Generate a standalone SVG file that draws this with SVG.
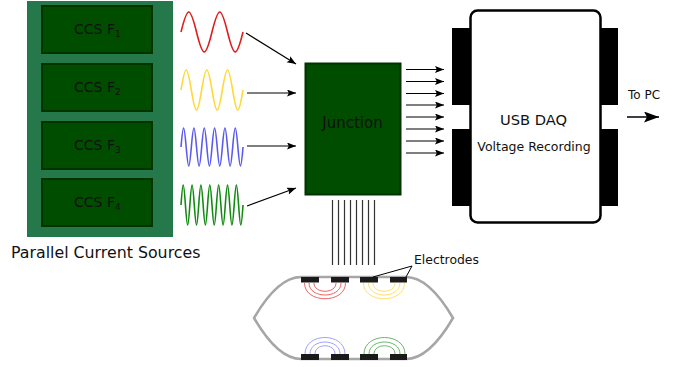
<svg xmlns="http://www.w3.org/2000/svg" width="686" height="367" viewBox="0 0 686 367">
<style>
text{font-family:"DejaVu Sans",sans-serif;fill:#111}
.box{fill:#004d00;stroke:#003300;stroke-width:2}
.wave{fill:none;stroke-width:1.6}
.arr{fill:none;stroke:#000;stroke-width:1.2;marker-end:url(#ah)}
.wire{stroke:#333;stroke-width:1.2}
.blk{fill:#000}
.el{fill:#1a1a1a}
.arc{fill:none;stroke-width:1}
</style>
<defs>
<marker id="ah" markerUnits="userSpaceOnUse" markerWidth="10" markerHeight="8" refX="9" refY="3.5" orient="auto"><path d="M0 0L9 3.5L0 7L1.8 3.5Z" fill="#000"/></marker>
<marker id="ah2" markerUnits="userSpaceOnUse" markerWidth="16" markerHeight="12" refX="15" refY="5.5" orient="auto"><path d="M0 0L15 5.500L0 11L3 5.500Z" fill="#000"/></marker>
</defs>
<g id="sources">
<rect x="27" y="1" width="146" height="236" fill="#25784a"/>
<text x="11" y="258" font-size="15.800">Parallel Current Sources</text>
</g>
<g id="ccs1"><rect class="box" x="42" y="6" width="110" height="47"/><text x="74" y="34" font-size="14">CCS F<tspan font-size="9" dy="3">1</tspan></text></g>
<g id="ccs2"><rect class="box" x="42" y="64" width="110" height="47"/><text x="74" y="92" font-size="14">CCS F<tspan font-size="9" dy="3">2</tspan></text></g>
<g id="ccs3"><rect class="box" x="42" y="122" width="110" height="47"/><text x="74" y="150" font-size="14">CCS F<tspan font-size="9" dy="3">3</tspan></text></g>
<g id="ccs4"><rect class="box" x="42" y="179" width="110" height="47"/><text x="74" y="207" font-size="14">CCS F<tspan font-size="9" dy="3">4</tspan></text></g>
<g id="waves">
<path class="wave" stroke="#dd1c1c" d="M181 32c6.58-26.67 8.92-26.67 15.5 0c6.58 26.67 8.92 26.67 15.5 0c6.58-26.67 8.92-26.67 15.5 0c6.58 26.67 8.92 26.67 15.5 0"/>
<path class="wave" stroke="#ffd83a" d="M181 90c4.38-26.67 5.95-26.67 10.33 0c4.38 26.67 5.95 26.67 10.33 0c4.38-26.67 5.95-26.67 10.33 0c4.38 26.67 5.95 26.67 10.33 0c4.38-26.67 5.95-26.67 10.33 0c4.38 26.67 5.95 26.67 10.33 0"/>
<path class="wave" stroke="#5a5af0" d="M181 147c2.19-25.3 2.98-25.3 5.17 0c2.19 25.3 2.98 25.3 5.17 0c2.19-25.3 2.98-25.3 5.17 0c2.19 25.3 2.98 25.3 5.17 0c2.19-25.3 2.98-25.3 5.17 0c2.19 25.3 2.98 25.3 5.17 0c2.19-25.3 2.98-25.3 5.17 0c2.19 25.3 2.98 25.3 5.17 0c2.19-25.3 2.98-25.3 5.17 0c2.19 25.3 2.98 25.3 5.17 0c2.19-25.3 2.98-25.3 5.17 0c2.19 25.3 2.98 25.3 5.17 0"/>
<path class="wave" stroke="#128a12" d="M181 205c1.88-26.67 2.55-26.67 4.43 0c1.88 26.67 2.55 26.67 4.43 0c1.88-26.67 2.55-26.67 4.43 0c1.88 26.67 2.55 26.67 4.43 0c1.88-26.67 2.55-26.67 4.43 0c1.88 26.67 2.55 26.67 4.43 0c1.88-26.67 2.55-26.67 4.43 0c1.88 26.67 2.55 26.67 4.43 0c1.88-26.67 2.55-26.67 4.43 0c1.88 26.67 2.55 26.67 4.43 0c1.88-26.67 2.55-26.67 4.43 0c1.88 26.67 2.55 26.67 4.43 0c1.88-26.67 2.55-26.67 4.43 0c1.88 26.67 2.55 26.67 4.43 0"/>
</g>
<g id="junction"><rect x="305.500" y="63.500" width="95" height="131" fill="#004d00" stroke="#003300" stroke-width="2"/><text x="352.500" y="128" font-size="15" text-anchor="middle">Junction</text></g>
<g id="daq">
<path class="blk" d="M452 28h18v77h-18zM452 129h18v77h-18zM600 28h18v77h-18zM600 129h18v77h-18z"/>
<rect x="470.500" y="10.500" width="130" height="212" rx="7" fill="#fff" stroke="#000" stroke-width="2.500"/>
<text x="533.500" y="125" font-size="14.700" text-anchor="middle">USB DAQ</text>
<text x="534" y="151" font-size="12.500" text-anchor="middle">Voltage Recording</text>
</g>
<g id="connectors">
<path class="arr" d="M246 33L296 64"/><path class="arr" d="M247 93H296"/><path class="arr" d="M247 146H296"/><path class="arr" d="M247 206L296 188"/>
<path class="arr" d="M406 69.500H444"/><path class="arr" d="M406 81.500H444"/><path class="arr" d="M406 93.500H444"/><path class="arr" d="M406 105H444"/><path class="arr" d="M406 117H444"/><path class="arr" d="M406 129H444"/><path class="arr" d="M406 141H444"/><path class="arr" d="M406 153H444"/>
<path class="wire" d="M332.500 200V265M338.500 200V265M344.500 200V265M350.500 200V265M356.500 200V265M362.500 200V265M368.500 200V265M374.500 200V265"/>
<path d="M627 117H659" stroke="#000" stroke-width="1.500" marker-end="url(#ah2)" fill="none"/>
</g>
<text id="to-pc" x="628" y="99" font-size="12">To PC</text>
<g id="phantom">
<path d="M254 318C268 294 284 277 301 277H406C423 277 439 294 453 318C439 342 423 359 406 359H301C284 359 268 342 254 318Z" fill="#fff" stroke="#a6a6a6" stroke-width="2.500"/>
<path class="el" d="M301 277h18v5.500h-18zM331 277h18v5.500h-18zM360 277h18v5.500h-18zM390 277h17v5.500h-17zM301 354h18v6h-18zM331 354h18v6h-18zM360 354h18v6h-18zM390 354h17v6h-17z"/>
<path d="M373 277L412 266L406 277" fill="none" stroke="#000" stroke-width="1"/>
<g stroke="#e66">
<path class="arc" d="M304.500 283C304.500 304 345.500 304 345.500 283M309 283C309 299 341 299 341 283M314 283C314 294 336 294 336 283"/></g>
<g stroke="#ffdf70">
<path class="arc" d="M363.500 283C363.500 304 404.500 304 404.500 283M368.500 283C368.500 299 400 299 400 283M373 283C373 294 395 294 395 283"/></g>
<g stroke="#a0a0ff">
<path class="arc" d="M305 354C305 332 345 332 345 354M310 354C310 338 340 338 340 354M315 354C315 343 335 343 335 354"/></g>
<g stroke="#6ab86a">
<path class="arc" d="M364 354C364 332 405 332 405 354M369 354C369 338 400 338 400 354M374 354C374 343 395 343 395 354"/></g>
<text x="414" y="264" font-size="12.400">Electrodes</text>
</g>
</svg>
